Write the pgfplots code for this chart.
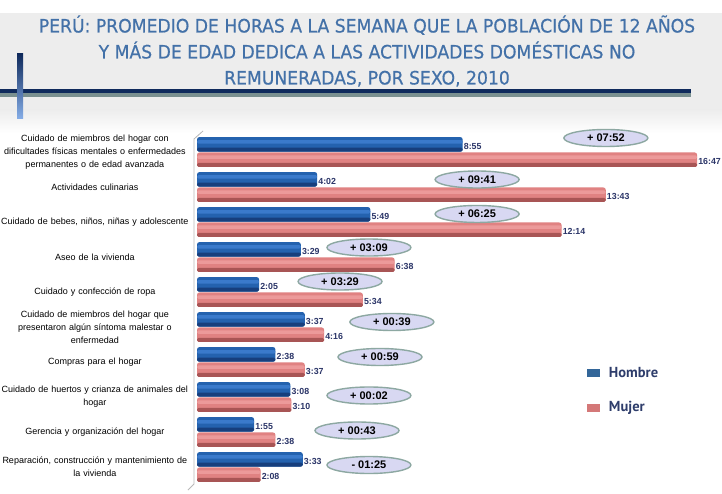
\documentclass[border=0pt]{standalone}
\usepackage{pgfplots}
\pgfplotsset{compat=1.18}
\usepackage{pgfplotstable}
\usepackage{fontspec}
\setmainfont{Liberation Sans}
\newfontfamily\titlefont{DejaVu Sans}[FakeStretch=0.93, FakeBold=0.5]
\newfontfamily\legfont{PT Sans}
\usetikzlibrary{shapes.geometric}
\definecolor{titleblue}{HTML}{4371A8}
\definecolor{hBase}{HTML}{2462AE}
\definecolor{hHi}{HTML}{3A7ACB}
\definecolor{hDark}{HTML}{173F7D}
\definecolor{mBase}{HTML}{E08282}
\definecolor{mHi}{HTML}{EC9A9A}
\definecolor{mDark}{HTML}{A85555}
\definecolor{labnavy}{HTML}{2B3568}
\definecolor{ellfill}{HTML}{D8D8F2}
\definecolor{elldraw}{HTML}{8DA8A2}
\definecolor{legblue}{HTML}{336699}
\definecolor{legred}{HTML}{D47878}
\definecolor{legtext}{HTML}{2E3D6B}
\definecolor{bandgray}{HTML}{EDEDED}
\definecolor{navyline}{HTML}{0F2A5C}
\definecolor{shadowline}{HTML}{7A9090}
\tikzset{diffell/.style={ellipse, fill=ellfill, draw=elldraw, line width=1.4pt, minimum width=84pt, minimum height=17pt, inner sep=0pt, font=\fontsize{11}{12}\selectfont\bfseries, text=black}}

\pgfplotstableread{
y h lab
9.22 8.9167 8:55
8.22 4.0333 4:02
7.22 5.8167 5:49
6.22 3.4833 3:29
5.22 2.0833 2:05
4.22 3.6167 3:37
3.22 2.6333 2:38
2.22 3.1333 3:08
1.22 1.9167 1:55
0.22 3.5500 3:33
}\hombre

\pgfplotstableread{
y h lab
8.78 16.7833 16:47
7.78 13.7167 13:43
6.78 12.2333 12:14
5.78 6.6333 6:38
4.78 5.5667 5:34
3.78 4.2667 4:16
2.78 3.6167 3:37
1.78 3.1667 3:10
0.78 2.6333 2:38
-0.22 2.1333 2:08
}\mujer

\begin{document}
\begin{tikzpicture}
\useasboundingbox (0,0) rectangle (722pt,493pt);
\fill[white] (0,0) rectangle (722pt,493pt);
\fill[bandgray] (0,383pt) rectangle (722pt,480pt);
\shade[top color=bandgray, bottom color=white] (0,360pt) rectangle (722pt,383pt);
% title
\node[font=\titlefont\fontsize{18.5}{26}\selectfont, text=titleblue, align=center] at (367pt,442pt)
  {PERÚ: PROMEDIO DE HORAS A LA SEMANA QUE LA POBLACIÓN DE 12 AÑOS\\%
Y MÁS DE EDAD DEDICA A LAS ACTIVIDADES DOMÉSTICAS NO\\%
REMUNERADAS, POR SEXO, 2010};
% decorative lines
\fill[shadowline] (0,396pt) rectangle (691pt,400pt);
\fill[navyline] (0,400pt) rectangle (691pt,404pt);
\shade[top color=navyline, bottom color={rgb,255:red,134;green,174;blue,232}] (17pt,374pt) rectangle (23pt,439pt);
% 3D wall line
\draw[gray!55, line width=0.8pt] (203pt,362pt) -- (194pt,354pt) -- (194pt,9pt) -- (188pt,3pt);

\begin{axis}[
  at={(197pt,8.5pt)}, anchor=south west,
  scale only axis, width=521.5pt, height=350pt,
  xmin=0, xmax=17.5, ymin=-0.5, ymax=9.5,
  clip=false,
  axis line style={draw=none},
  xtick=\empty,
  ytick={0,...,9},
  major tick length=0pt,
  yticklabels={
    {Reparación, construcción y mantenimiento de\\la vivienda},
    {Gerencia y organización del hogar},
    {Cuidado de huertos y crianza de animales del\\hogar},
    {Compras para el hogar},
    {Cuidado de miembros del hogar que\\presentaron algún síntoma malestar o\\enfermedad},
    {Cuidado y confección de ropa},
    {Aseo de la vivienda},
    {Cuidado de bebes, niños, niñas y adolescente},
    {Actividades culinarias},
    {Cuidado de miembros del hogar con\\dificultades físicas mentales o enfermedades\\permanentes o de edad avanzada}},
  yticklabel style={font=\fontsize{9}{12.8}\selectfont, text width=200pt, align=center, anchor=east, inner sep=0pt, xshift=-2pt},
  legend style={at={(axis cs:13.08,2.92)}, anchor=north west, draw=none, fill=none,
    font=\legfont\bfseries\fontsize{14.5}{16}\selectfont, text=legtext, row sep=19pt, inner sep=0pt},
  legend image code/.code={\fill[#1] (0pt,-4pt) rectangle (13pt,4pt); \path (20pt,0pt);},
  legend cell align=left,
  lab/.style={nodes near coords, point meta=explicit symbolic,
    nodes near coords style={font=\fontsize{8.8}{10}\selectfont\bfseries, text=labnavy, anchor=west, inner sep=1pt, yshift=-2pt}},
]
% Hombre: base, bottom shadow, highlight
\addplot[xbar, bar width=14.5pt, bar shift=0pt, draw=none, rounded corners=2.5pt, fill=hBase, forget plot, lab]
  table[x=h, y=y, meta=lab] {\hombre};
\addplot[xbar, bar width=4pt, bar shift=-5.25pt, draw=none, rounded corners=1.5pt, fill=hDark, forget plot]
  table[x=h, y=y] {\hombre};
\addplot[xbar, bar width=3.5pt, bar shift=2.5pt, draw=none, rounded corners=1.5pt, fill=hHi, forget plot]
  table[x=h, y=y] {\hombre};
% Mujer: base, bottom shadow, highlight
\addplot[xbar, bar width=14.5pt, bar shift=0pt, draw=none, rounded corners=2.5pt, fill=mBase, forget plot, lab]
  table[x=h, y=y, meta=lab] {\mujer};
\addplot[xbar, bar width=4pt, bar shift=-5.25pt, draw=none, rounded corners=1.5pt, fill=mDark, forget plot]
  table[x=h, y=y] {\mujer};
\addplot[xbar, bar width=3.5pt, bar shift=2.5pt, draw=none, rounded corners=1.5pt, fill=mHi, forget plot]
  table[x=h, y=y] {\mujer};
\addlegendimage{draw=none, fill=legblue}
\addlegendentry{Hombre}
\addlegendimage{draw=none, fill=legred}
\addlegendentry{Mujer}
\node[diffell] at (axis cs:13.72,9.40) {+ 07:52};
\node[diffell] at (axis cs:9.40,8.214) {+ 09:41};
\node[diffell] at (axis cs:9.40,7.229) {+ 06:25};
\node[diffell] at (axis cs:5.77,6.271) {+ 03:09};
\node[diffell] at (axis cs:4.80,5.30) {+ 03:29};
\node[diffell] at (axis cs:6.54,4.143) {+ 00:39};
\node[diffell] at (axis cs:6.14,3.143) {+ 00:59};
\node[diffell] at (axis cs:5.77,2.043) {+ 00:02};
\node[diffell] at (axis cs:5.37,1.043) {+ 00:43};
\node[diffell] at (axis cs:5.77,0.057) {- 01:25};
\end{axis}
\end{tikzpicture}
\end{document}
